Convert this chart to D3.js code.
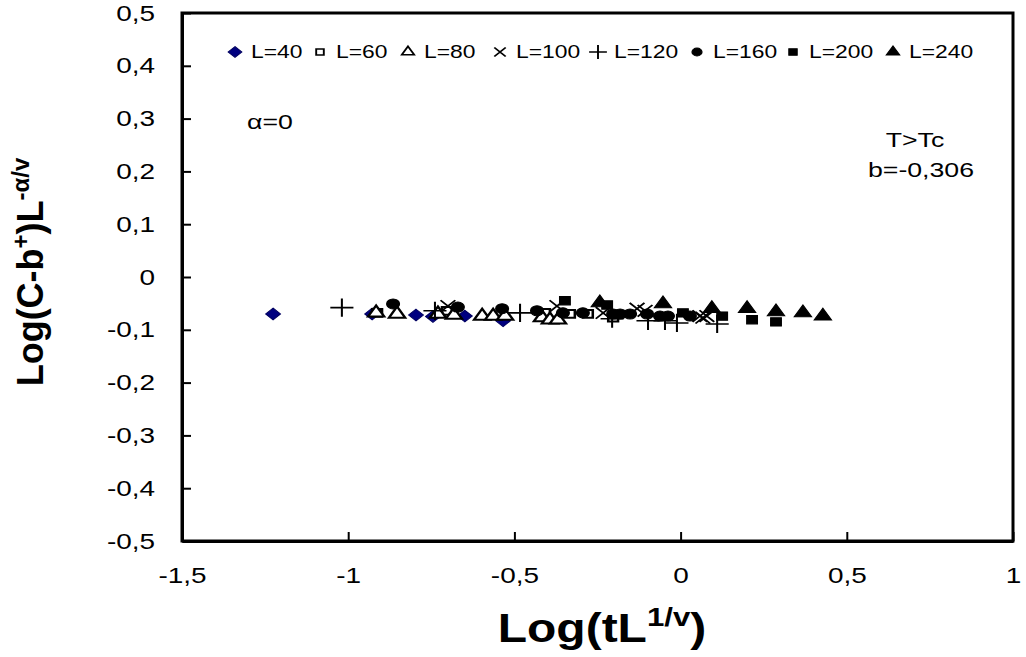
<!DOCTYPE html>
<html>
<head>
<meta charset="utf-8">
<script src="https://cdn.jsdelivr.net/npm/d3@7"></script>
<style>
  body { margin: 0; background: #fff; }
  svg { display: block; font-family: "Liberation Sans", Arial, sans-serif; }
  .axis path, .axis line { stroke: #000; }
</style>
</head>
<body>
<div id="chart"></div>
<script>
'use strict';

/* data: [Log(tL^1/v), Log(C-b+)L^-a/v] */
const L40 = [[-1.226, -0.070], [-0.928, -0.070], [-0.796, -0.072], [-0.745, -0.075],
             [-0.649, -0.074], [-0.534, -0.083]];
const L60 = [[-0.913, -0.068], [-0.703, -0.064], [-0.408, -0.068], [-0.333, -0.070],
             [-0.279, -0.070], [-0.203, -0.077]];
const L80 = [[-0.916, -0.068], [-0.853, -0.070], [-0.730, -0.070], [-0.682, -0.072],
             [-0.597, -0.074], [-0.564, -0.074], [-0.528, -0.074], [-0.417, -0.077],
             [-0.393, -0.081], [-0.369, -0.081]];
const L100 = [[-0.700, -0.055], [-0.372, -0.055], [-0.233, -0.068], [-0.131, -0.060],
              [-0.107, -0.064], [0.058, -0.074], [0.079, -0.074], [0.067, -0.077]];
const L120 = [[-1.019, -0.058], [-0.739, -0.064], [-0.483, -0.068], [-0.206, -0.079],
              [-0.098, -0.083], [-0.047, -0.083], [-0.011, -0.087], [0.110, -0.089]];
const L160 = [[-0.865, -0.051], [-0.670, -0.057], [-0.537, -0.060], [-0.432, -0.064],
              [-0.354, -0.068], [-0.294, -0.068], [-0.203, -0.070], [-0.182, -0.070],
              [-0.152, -0.070], [-0.101, -0.070], [-0.062, -0.074], [-0.038, -0.074],
              [0.028, -0.074]];
const L200 = [[-0.348, -0.045], [-0.221, -0.053], [0.007, -0.068], [0.125, -0.074],
              [0.215, -0.081], [0.287, -0.085]];
const L240 = [[-0.243, -0.049], [-0.053, -0.051], [0.094, -0.060], [0.200, -0.060],
              [0.287, -0.066], [0.368, -0.068], [0.428, -0.074]];

const seriesNames = ["L=40", "L=60", "L=80", "L=100", "L=120", "L=160", "L=200", "L=240"];
const seriesData = [L40, L60, L80, L100, L120, L160, L200, L240];
const xTicks = [-1.5, -1, -0.5, 0, 0.5, 1];
const yTicks = [0.5, 0.4, 0.3, 0.2, 0.1, 0, -0.1, -0.2, -0.3, -0.4, -0.5];

// marker style per series (same order as seriesNames), lg = legend size factor
const markers = [
  { type: d3.symbolDiamond2, size: 85, fill: "#000080", stroke: "#000060", sw: 1, lg: 0.85 },
  { type: d3.symbolSquare, size: 60, fill: "#fff", stroke: "#000", sw: 2, lg: 0.6 },
  { type: d3.symbolTriangle, size: 70, fill: "#fff", stroke: "#000", sw: 2, lg: 0.6 },
  { type: d3.symbolTimes, size: 90, fill: "none", stroke: "#000", sw: 1.6, lg: 0.6 },
  { type: d3.symbolPlus, size: 110, fill: "none", stroke: "#000", sw: 1.6, lg: 0.6 },
  { type: d3.symbolCircle, size: 80, fill: "#000", stroke: "#000", sw: 1, lg: 0.6 },
  { type: d3.symbolSquare, size: 70, fill: "#000", stroke: "#000", sw: 1, lg: 0.6 },
  { type: d3.symbolTriangle, size: 80, fill: "#000", stroke: "#000", sw: 1, lg: 0.6 }
];

// the source picture is stretched sideways, text and marks follow it
const stretch = 1.27;

const size = { width: 1026, height: 657 };
const plot = { left: 182, right: 1013, top: 13, bottom: 541 };

const fmt = d => d3.format("~g")(d).replace("\u2212", "-").replace(".", ",");

const svg = d3.select("#chart").append("svg")
  .attr("width", size.width)
  .attr("height", size.height);

const xScale = d3.scaleLinear().domain([-1.5, 1]).range([plot.left, plot.right]);
const yScale = d3.scaleLinear().domain([-0.5, 0.5]).range([plot.bottom, plot.top]);

// frame
svg.append("rect")
  .attr("x", plot.left)
  .attr("y", plot.top)
  .attr("width", plot.right - plot.left)
  .attr("height", plot.bottom - plot.top)
  .attr("fill", "#fff")
  .attr("stroke", "#000")
  .attr("stroke-width", 3);

const yAxis = d3.axisLeft(yScale)
  .tickValues(yTicks)
  .tickSizeInner(-9)
  .tickSizeOuter(0)
  .tickPadding(27)
  .tickFormat(fmt);

const xAxis = d3.axisBottom(xScale)
  .tickValues(xTicks)
  .tickSizeInner(-9)
  .tickSizeOuter(0)
  .tickPadding(26)
  .tickFormat(fmt);

const gy = svg.append("g")
  .attr("class", "y axis")
  .attr("transform", "translate(" + plot.left + ",0)")
  .call(yAxis);

const gx = svg.append("g")
  .attr("class", "x axis")
  .attr("transform", "translate(0," + plot.bottom + ")")
  .call(xAxis);

[gx, gy].forEach(g => {
  g.select(".domain").attr("stroke-width", 3);
  g.selectAll(".tick line").attr("stroke-width", 2);
  g.selectAll(".tick text")
    .attr("font-size", 22)
    .attr("font-family", "Liberation Sans, Arial, sans-serif")
    .attr("fill", "#000");
});

// stretch tick labels around their anchor
gy.selectAll(".tick text")
  .attr("x", 0)
  .attr("transform", "translate(-27,0) scale(" + stretch + ",1)");
gx.selectAll(".tick text")
  .attr("transform", "scale(" + stretch + ",1)");

function drawMarker(sel, m) {
  sel.append("path")
    .attr("d", d3.symbol().type(m.type).size(m.size))
    .attr("fill", m.fill)
    .attr("stroke", m.stroke)
    .attr("stroke-width", m.sw);
}

// points
seriesData.forEach((data, i) => {
  svg.append("g")
    .attr("class", "series")
    .selectAll("g")
    .data(data)
    .join("g")
    .attr("transform", d => "translate(" + xScale(d[0]) + "," + yScale(d[1]) + ") scale(" + stretch + ",1)")
    .each(function () { drawMarker(d3.select(this), markers[i]); });
});

// legend
const legendX = [235, 320, 408, 500, 598, 697, 793, 893];
const legend = svg.append("g").attr("class", "legend");
seriesNames.forEach((name, i) => {
  const item = legend.append("g")
    .attr("transform", "translate(" + legendX[i] + ",52)");
  const mk = item.append("g").attr("transform", "scale(" + stretch + ",1)");
  drawMarker(mk, Object.assign({}, markers[i], {
    size: markers[i].size * markers[i].lg,
    sw: Math.min(markers[i].sw, 1.5)
  }));
  item.append("text")
    .attr("transform", "translate(16,0) scale(" + stretch + ",1)")
    .attr("dy", "0.35em")
    .attr("font-size", 18)
    .text(name);
});

// notes inside the plot
function note(x, y, txt, anchor) {
  svg.append("text")
    .attr("transform", "translate(" + x + "," + y + ") scale(" + stretch + ",1)")
    .attr("text-anchor", anchor)
    .attr("dy", "0.35em")
    .attr("font-size", 21)
    .text(txt);
}
note(247, 122, "\u03b1=0", "start");
note(915, 140, "T>Tc", "middle");
note(921, 170, "b=-0,306", "middle");

// axis titles
const xTitle = svg.append("text")
  .attr("transform", "translate(602,642) scale(1.2,1)")
  .attr("text-anchor", "middle")
  .attr("font-size", 40)
  .attr("font-weight", "bold");
xTitle.append("tspan").text("Log(tL");
xTitle.append("tspan").attr("font-size", 26).attr("dy", -16).text("1/v");
xTitle.append("tspan").attr("dy", 16).text(")");

const yTitle = svg.append("text")
  .attr("transform", "translate(43,272) rotate(-90)")
  .attr("text-anchor", "middle")
  .attr("font-size", 36)
  .attr("font-weight", "bold");
yTitle.append("tspan").text("Log(C-b");
yTitle.append("tspan").attr("font-size", 24).attr("dy", -14).text("+");
yTitle.append("tspan").attr("dy", 14).text(")L");
yTitle.append("tspan").attr("font-size", 24).attr("dy", -14).text("-\u03b1/v");
</script>
</body>
</html>
